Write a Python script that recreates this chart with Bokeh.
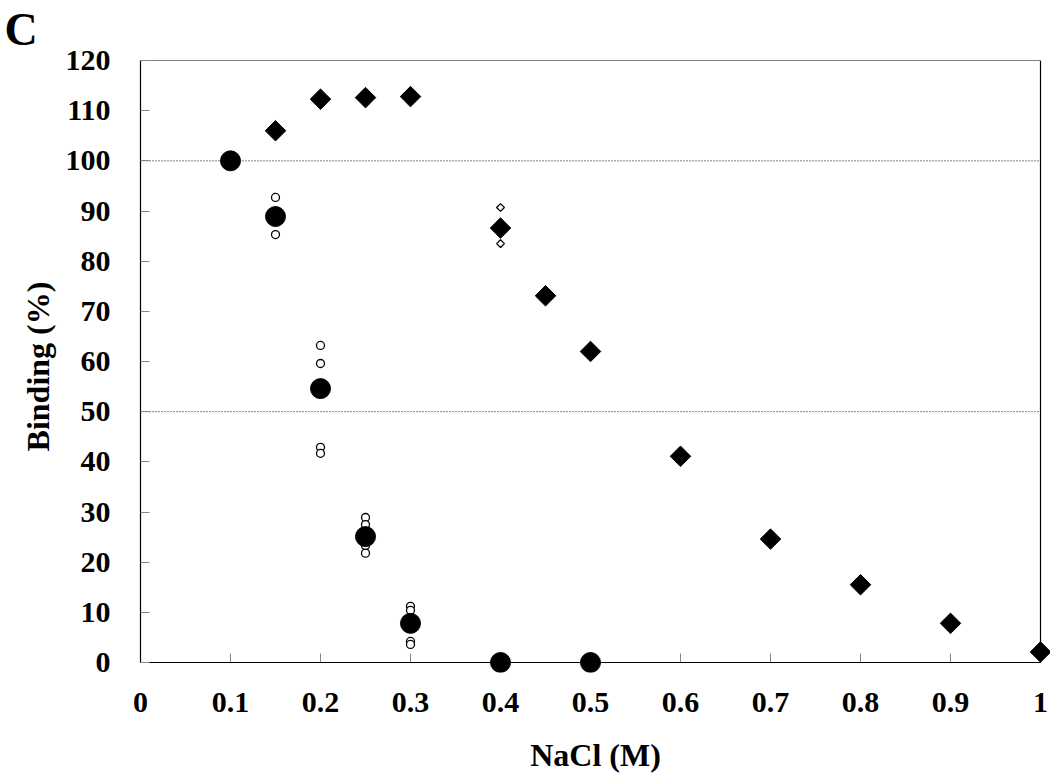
from bokeh.plotting import figure
from bokeh.models import FixedTicker, Range1d, Title
from bokeh.embed import file_html
from bokeh.resources import INLINE
import math

# Mean binding (large markers)
nacl_circle = [0.1, 0.15, 0.2, 0.25, 0.3, 0.4, 0.5]
bind_circle = [100.0, 88.9, 54.6, 25.1, 7.8, 0.0, 0.0]

# Individual replicates (small open circles)
nacl_circle_rep = [0.15, 0.15, 0.2, 0.2, 0.2, 0.2, 0.25, 0.25, 0.25, 0.25, 0.3, 0.3, 0.3, 0.3]
bind_circle_rep = [92.7, 85.3, 63.2, 59.6, 42.9, 41.7, 28.9, 27.5, 23.3, 21.8, 11.2, 10.4, 4.2, 3.6]

nacl_diamond = [0.15, 0.2, 0.25, 0.3, 0.4, 0.45, 0.5, 0.6, 0.7, 0.8, 0.9, 1.0]
bind_diamond = [106.0, 112.3, 112.6, 112.8, 86.6, 73.1, 62.0, 41.1, 24.6, 15.5, 7.8, 2.1]

nacl_diamond_rep = [0.4, 0.4]
bind_diamond_rep = [90.7, 83.5]

x_ticks = [0, 0.1, 0.2, 0.3, 0.4, 0.5, 0.6, 0.7, 0.8, 0.9, 1.0]
x_labels = {0: "0", 0.1: "0.1", 0.2: "0.2", 0.3: "0.3", 0.4: "0.4", 0.5: "0.5",
            0.6: "0.6", 0.7: "0.7", 0.8: "0.8", 0.9: "0.9", 1.0: "1"}
y_ticks = [0, 10, 20, 30, 40, 50, 60, 70, 80, 90, 100, 110, 120]
ref_lines = [100, 50]

X_MIN, X_MAX = 0.0, 1.0
Y_MIN, Y_MAX = 0.0, 120.0

FONT = "Liberation Serif"

# small padding on right and bottom so that markers sitting on the axes are not clipped
X_PX, Y_PX = 900, 602
x_pad = 10 / X_PX * (X_MAX - X_MIN)
y_pad = 10 / Y_PX * (Y_MAX - Y_MIN)
tick_len = 9 / Y_PX * (Y_MAX - Y_MIN)

p = figure(width=1050, height=776, output_backend="svg", toolbar_location=None,
           x_range=Range1d(X_MIN, X_MAX + x_pad), y_range=Range1d(Y_MIN - y_pad, Y_MAX),
           min_border_left=140, min_border_right=0, min_border_top=60, min_border_bottom=104)

p.xgrid.visible = False
p.ygrid.visible = False
p.outline_line_color = None
p.background_fill_color = "white"

for ax in (p.xaxis[0], p.yaxis[0]):
    ax.major_tick_in = 9
    ax.major_tick_out = 0
    ax.minor_tick_in = 0
    ax.minor_tick_out = 0
    ax.major_tick_line_color = "#888888"
    ax.axis_line_color = "black"
    ax.axis_line_width = 1.2
    ax.major_label_text_font = FONT
    ax.major_label_text_font_style = "bold"
    ax.major_label_text_font_size = "30px"
    ax.major_label_text_color = "black"
    ax.axis_label_text_font = FONT
    ax.axis_label_text_font_style = "bold"
    ax.axis_label_text_font_size = "32px"
    ax.axis_label_text_color = "black"

# x axis: labels only (line and ticks drawn at y = 0 below)
xa = p.xaxis[0]
xa.ticker = FixedTicker(ticks=x_ticks)
xa.major_label_overrides = x_labels
xa.axis_line_color = None
xa.major_tick_line_color = None
xa.major_label_standoff = 20
xa.axis_label = "NaCl (M)"
xa.axis_label_standoff = 22

ya = p.yaxis[0]
ya.ticker = FixedTicker(ticks=y_ticks)
ya.bounds = (Y_MIN, Y_MAX)
ya.major_label_standoff = 30
ya.axis_label = "Binding (%)"
ya.axis_label_standoff = 7

# x tick marks (inward, grey)
p.segment(x0=x_ticks, y0=[Y_MIN] * len(x_ticks), x1=x_ticks, y1=[Y_MIN + tick_len] * len(x_ticks),
          line_color="#888888", line_width=1)

# frame: bottom axis line, top and right borders
p.segment(x0=[X_MIN, X_MIN, X_MAX], y0=[Y_MIN, Y_MAX, Y_MIN],
          x1=[X_MAX, X_MAX, X_MAX], y1=[Y_MIN, Y_MAX, Y_MAX],
          line_color="black", line_width=1.2)

# dotted reference lines
p.segment(x0=[X_MIN] * len(ref_lines), y0=ref_lines, x1=[X_MAX] * len(ref_lines), y1=ref_lines,
          line_color="black", line_width=1, line_dash="1 2")

p.scatter(nacl_circle_rep, bind_circle_rep, marker="circle", size=8,
          fill_color="white", line_color="black", line_width=1.3)
p.scatter(nacl_diamond_rep, bind_diamond_rep, marker="square", angle=math.pi / 4, size=5.5,
          fill_color="white", line_color="black", line_width=1.3)
p.scatter(nacl_circle, bind_circle, marker="circle", size=20,
          fill_color="black", line_color="black")
p.scatter(nacl_diamond, bind_diamond, marker="square", angle=math.pi / 4, size=14.5,
          fill_color="black", line_color="black")

p.add_layout(Title(text="C", align="left", offset=-136, standoff=7, vertical_align="top",
                   text_font=FONT, text_font_style="bold", text_font_size="46px",
                   text_color="black"), "above")

open("out.html", "w").write(file_html(p, INLINE))
